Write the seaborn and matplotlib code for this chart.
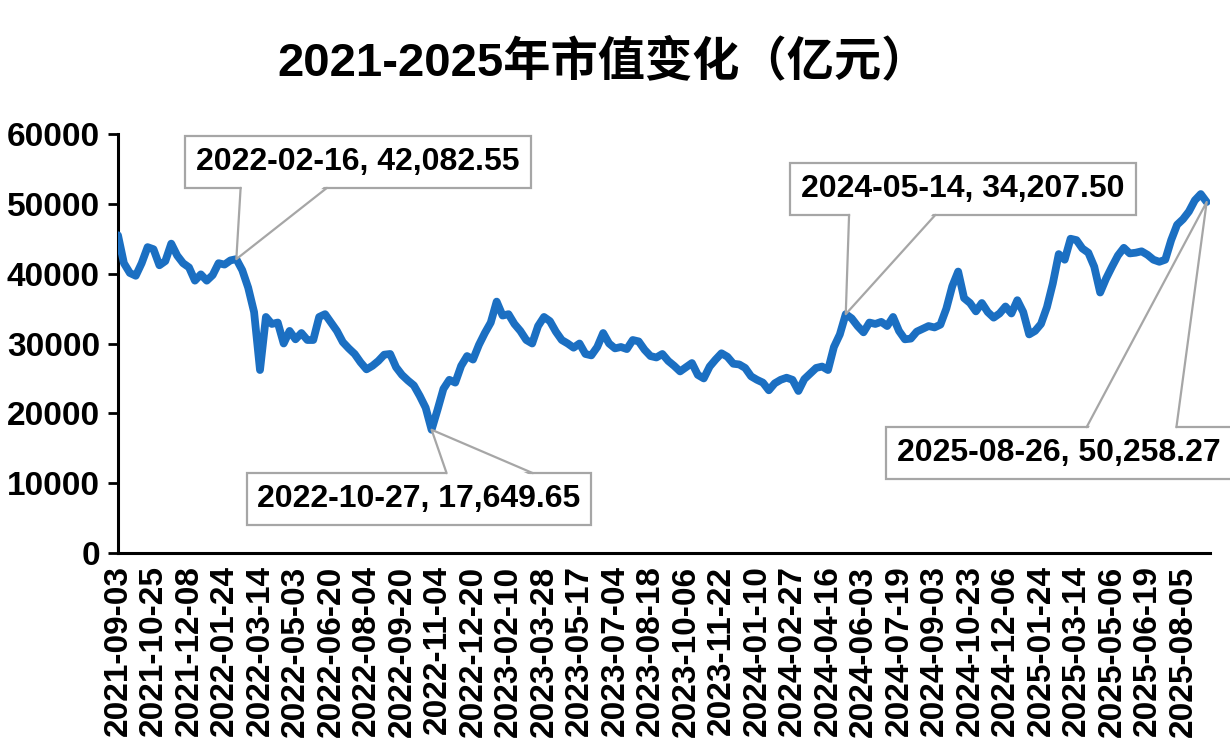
import numpy as np
import pandas as pd
import matplotlib
matplotlib.use("Agg")
import matplotlib.pyplot as plt
import seaborn as sns
from matplotlib.lines import Line2D
from matplotlib.patches import Polygon

# ---------------- data ----------------
title = "2021-2025年市值变化（亿元）"

tick_labels = [
    "2021-09-03", "2021-10-25", "2021-12-08", "2022-01-24", "2022-03-14",
    "2022-05-03", "2022-06-20", "2022-08-04", "2022-09-20", "2022-11-04",
    "2022-12-20", "2023-02-10", "2023-03-28", "2023-05-17", "2023-07-04",
    "2023-08-18", "2023-10-06", "2023-11-22", "2024-01-10", "2024-02-27",
    "2024-04-16", "2024-06-03", "2024-07-19", "2024-09-03", "2024-10-23",
    "2024-12-06", "2025-01-24", "2025-03-14", "2025-05-06", "2025-06-19",
    "2025-08-05",
]
samples_per_label = 6  # values are sampled 6 times between consecutive labels

values = [
    45500, 41500, 40100, 39700, 41500, 43800, 43500, 41200, 41800, 44300,
    42600, 41500, 40900, 39000, 39900, 39000, 39800, 41500, 41300, 41900,
    42082.55, 40500, 38000, 34500, 26200, 33800, 32800, 33000, 30000, 31800,
    30600, 31500, 30500, 30500, 33800, 34200, 33000, 31800, 30200, 29300,
    28500, 27300, 26300, 26800, 27500, 28400, 28500, 26600, 25500, 24700,
    24000, 22500, 20800, 17649.65, 20500, 23500, 24800, 24400, 26800, 28200,
    27700, 29800, 31500, 33000, 36000, 34000, 34200, 32800, 31800, 30500,
    30000, 32500, 33800, 33200, 31700, 30500, 30000, 29400, 30000, 28500,
    28300, 29500, 31500, 30000, 29300, 29500, 29200, 30500, 30300, 29100,
    28200, 28000, 28500, 27500, 26800, 26000, 26600, 27200, 25500, 25000,
    26700, 27700, 28600, 28100, 27100, 27000, 26500, 25300, 24800, 24400,
    23300, 24300, 24800, 25100, 24800, 23200, 24900, 25700, 26500, 26700,
    26200, 29500, 31300, 34207.50, 33600, 32500, 31600, 33000, 32800, 33100,
    32500, 33800, 31800, 30600, 30700, 31700, 32100, 32500, 32300, 32700,
    35000, 38200, 40300, 36500, 35800, 34600, 35800, 34500, 33700, 34300,
    35300, 34300, 36200, 34500, 31300, 31800, 32800, 35200, 38600, 42800,
    42000, 45000, 44800, 43600, 43000, 41000, 37300, 39300, 41000, 42600,
    43700, 42900, 43000, 43200, 42700, 42000, 41700, 42000, 44800, 47000,
    47800, 48900, 50500, 51400, 50258.27,
]

ann_dates = ["2022-02-16", "2022-10-27", "2024-05-14", "2025-08-26"]
ann_values = [42082.55, 17649.65, 34207.50, 50258.27]
ann_index = [20, 53, 123, 184]

# ---------------- style ----------------
W, H = 1230, 738
LINE_COLOR = "#1B6FC2"
BOX_EDGE = "#A6A6A6"

sns.set_theme(style="white")
plt.rcParams["font.family"] = ["Liberation Sans", "Noto Sans CJK SC"]

fig = plt.figure(figsize=(W / 100, H / 100), dpi=100)
fig.patch.set_facecolor("white")

ax_left, ax_right, ax_top, ax_bottom = 118, 1210, 134, 553
ax = fig.add_axes([ax_left / W, (H - ax_bottom) / H,
                   (ax_right - ax_left) / W, (ax_bottom - ax_top) / H])

df = pd.DataFrame({"idx": np.arange(len(values)), "value": values})
sns.lineplot(data=df, x="idx", y="value", ax=ax, color=LINE_COLOR,
             linewidth=5.6, solid_joinstyle="round", solid_capstyle="round",
             zorder=3)

label_px = 35.5  # pixel spacing between labels
ax.set_xlim(0, (ax_right - ax_left) / (label_px / samples_per_label))
ax.set_ylim(0, 60000)
ax.set_yticks(np.arange(0, 60001, 10000))
ax.set_xticks(np.arange(len(tick_labels)) * samples_per_label)
ax.set_xticklabels(tick_labels, rotation=90)
ax.set_xlabel("")
ax.set_ylabel("")

for s in ["top", "right"]:
    ax.spines[s].set_visible(False)
for s in ["left", "bottom"]:
    ax.spines[s].set_color("black")
    ax.spines[s].set_linewidth(2.2)

ax.tick_params(axis="y", direction="out", length=7, width=2, color="black",
               pad=6, labelsize=24, left=True)
ax.tick_params(axis="x", length=0, pad=9, labelsize=24, bottom=True)
for lab in ax.get_xticklabels() + ax.get_yticklabels():
    lab.set_fontweight("bold")
    lab.set_color("black")

fig.text(0.490, 0.916, title, ha="center", va="center", fontsize=34,
         fontweight="bold", color="black")

# annotation boxes (centers in pixels) and wedge base fractions
box_centers = [(358, 162), (419, 499), (963, 189), (1059, 453)]
box_above = [True, False, True, False]
base_frac = [(0.16, 0.41), (0.58, 0.83), (0.17, 0.42), (0.58, 0.84)]

texts = []
for d, v, (cx, cy) in zip(ann_dates, ann_values, box_centers):
    t = fig.text(cx / W, 1 - cy / H, f"{d}, {v:,.2f}", ha="center",
                 va="center", fontsize=23, fontweight="bold", color="black",
                 zorder=5,
                 bbox=dict(boxstyle="square,pad=0.34", fc="white",
                           ec=BOX_EDGE, lw=1.6))
    texts.append(t)

fig.canvas.draw()
renderer = fig.canvas.get_renderer()
inv = fig.transFigure.inverted()
for t, i, above, (f1, f2) in zip(texts, ann_index, box_above, base_frac):
    bb = t.get_bbox_patch().get_window_extent(renderer)
    px, py = ax.transData.transform((i, values[i]))
    if above:
        ey, inner = bb.y0, 2.5
    else:
        ey, inner = bb.y1, -2.5
    x1 = bb.x0 + f1 * bb.width
    x2 = bb.x0 + f2 * bb.width
    mask = inv.transform([(x1 + 1.2, ey + inner), (px, py), (x2 - 1.2, ey + inner)])
    fig.patches.append(Polygon(mask, closed=True, fc="white", ec="none",
                               transform=fig.transFigure, zorder=6))
    pts = inv.transform([(x1, ey), (px, py), (x2, ey)])
    fig.lines.append(Line2D(pts[:, 0], pts[:, 1], color=BOX_EDGE, lw=1.6,
                            transform=fig.transFigure, zorder=7))

fig.savefig("out.png", dpi=100, facecolor="white")
